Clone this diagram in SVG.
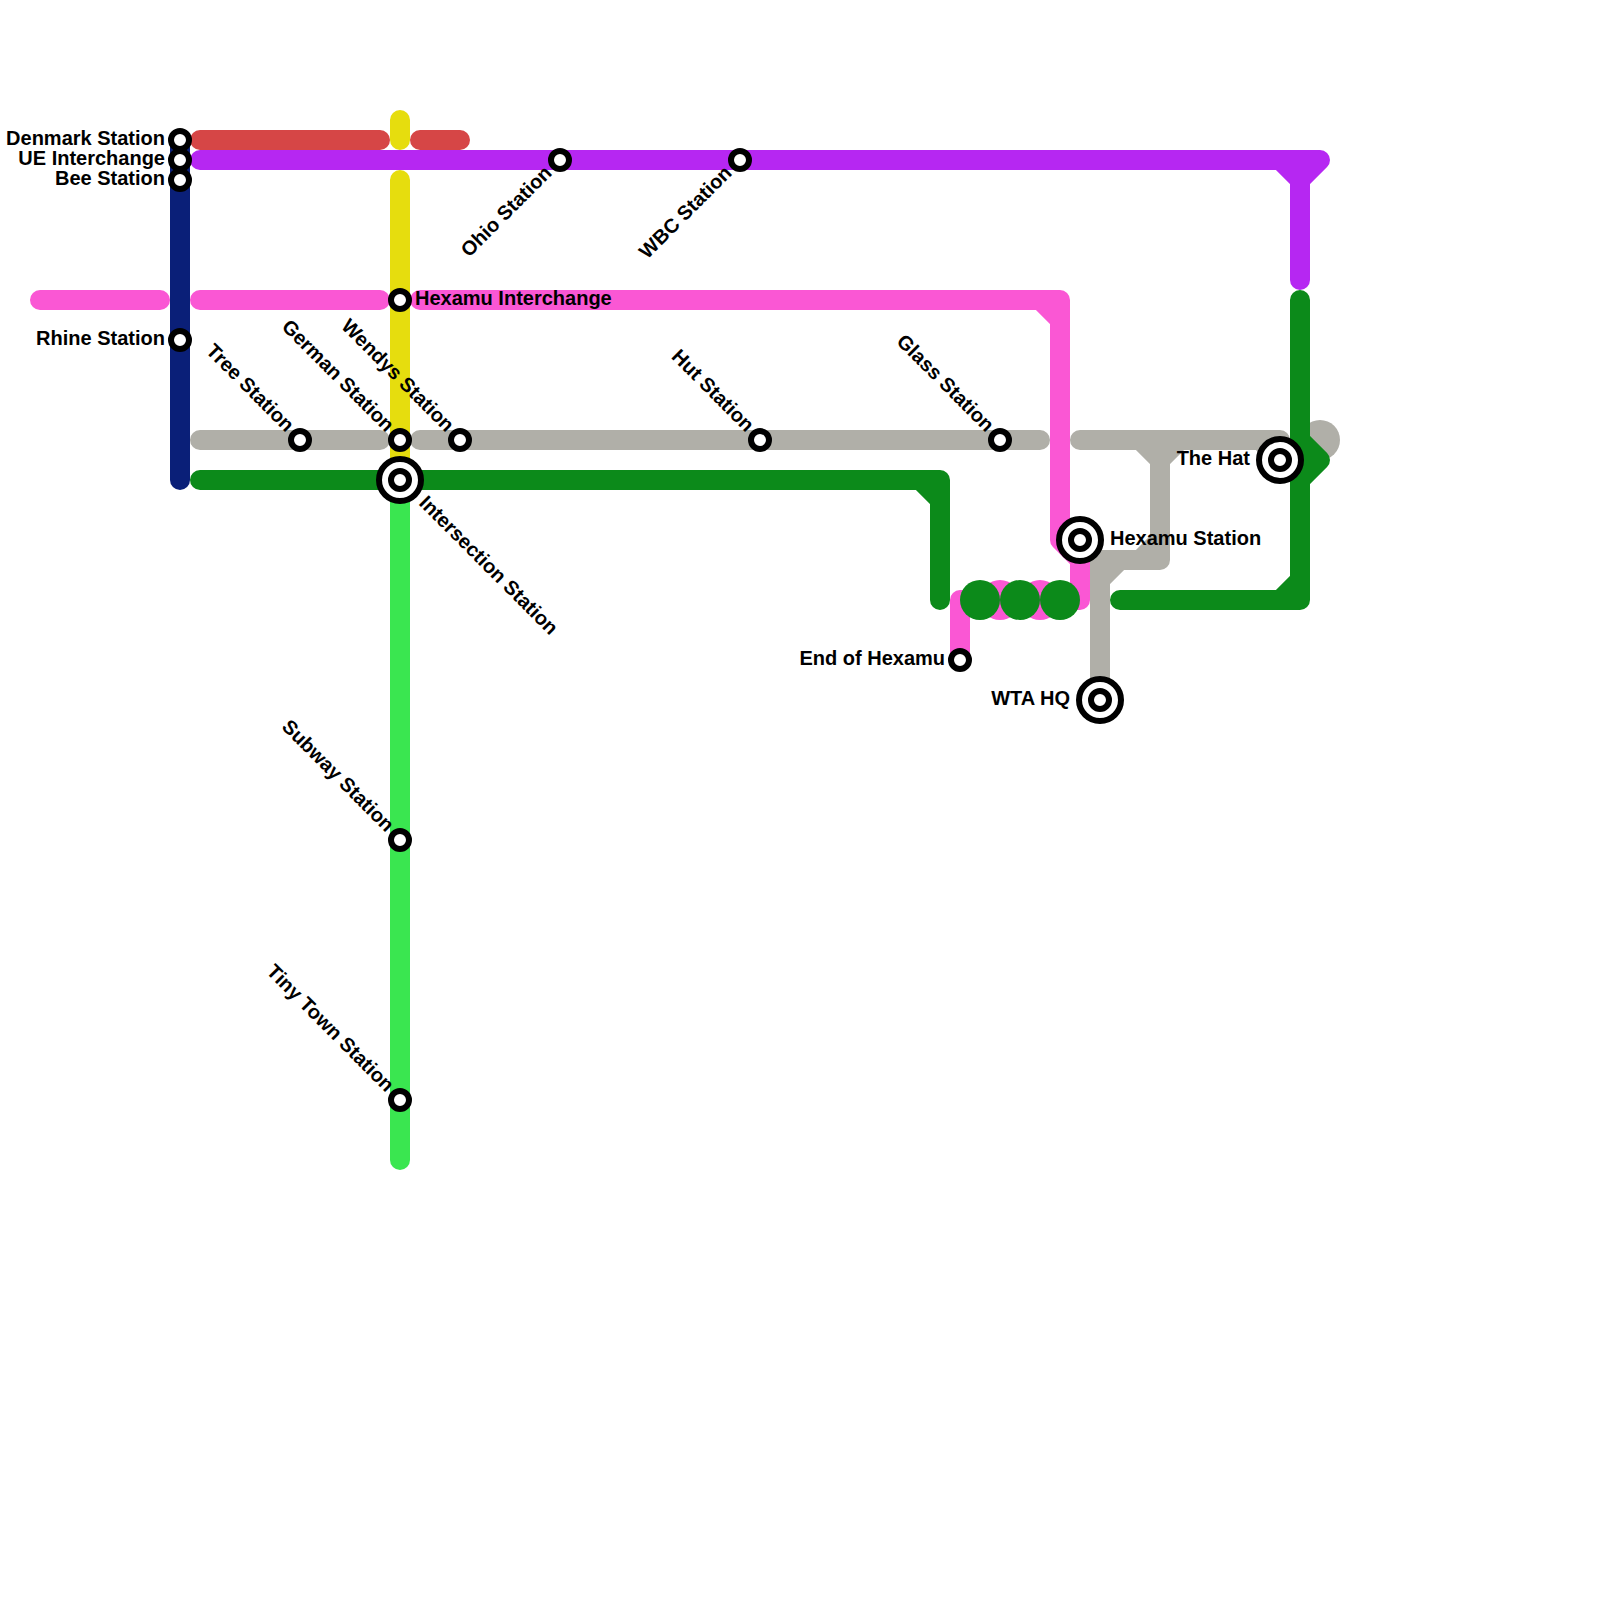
<svg xmlns="http://www.w3.org/2000/svg" width="1600" height="1600" viewBox="0 0 1600 1600">
<style>
.l{fill:none;stroke-width:20;stroke-linecap:round;stroke-linejoin:round}
.st{fill:#fff;stroke:#000;stroke-width:6}
.ic{fill:#fff;stroke:#000;stroke-width:6}
text{font-family:"Liberation Sans",Arial,sans-serif;font-weight:700;font-size:20px;fill:#000}
.e{text-anchor:end}
</style>
<rect width="1600" height="1600" fill="#fff"/>
<g id="connectors">
<path class="l" stroke="#0a1f78" d="M180 140V480"/>
<path class="l" stroke="#d64646" d="M200 140H380M420 140H460"/>
<path class="l" stroke="#e6dd0e" d="M400 120V140M400 180V460"/>
<path class="l" stroke="#b627f2" d="M200 160H1320L1300 180V280M1280 160L1300 180"/>
<path class="l" stroke="#fa57d4" d="M40 300H160M200 300H380M420 300H1060V540L1080 560V600H960V660M1040 300L1060 320"/>
<g fill="#fa57d4"><circle cx="1000" cy="600" r="20"/><circle cx="1040" cy="600" r="20"/></g>
<circle cx="1320" cy="440" r="20" fill="#b0afa8"/>
<path class="l" stroke="#b0afa8" d="M200 440H380M420 440H1040M1080 440H1280V460M1260 440L1280 460M1140 440L1160 460L1180 440M1160 440V560H1100M1100 700V560M1100 580L1120 560M1140 560L1160 540"/>
<path class="l" stroke="#3ae650" d="M400 480V1160"/>
<path class="l" stroke="#0c8a1a" d="M200 480H380M420 480H940V600M920 480L940 500M1120 600H1300V300M1280 600L1300 580M1300 440L1320 460L1300 480"/>
<g fill="#0c8a1a"><circle cx="980" cy="600" r="20"/><circle cx="1020" cy="600" r="20"/><circle cx="1060" cy="600" r="20"/></g>
</g>
<g id="denmark"><circle class="st" cx="180" cy="140" r="9"/><text class="e" x="165" y="145">Denmark Station</text></g>
<g id="ue"><circle class="st" cx="180" cy="160" r="9"/><text class="e" x="165" y="165">UE Interchange</text></g>
<g id="bee"><circle class="st" cx="180" cy="180" r="9"/><text class="e" x="165" y="185">Bee Station</text></g>
<g id="rhine"><circle class="st" cx="180" cy="340" r="9"/><text class="e" x="165" y="345">Rhine Station</text></g>
<g id="hexint"><circle class="st" cx="400" cy="300" r="9"/><text x="415" y="305">Hexamu Interchange</text></g>
<g id="tree"><circle class="st" cx="300" cy="440" r="9"/><text class="e" transform="translate(286 433) rotate(45)">Tree Station</text></g>
<g id="german"><circle class="st" cx="400" cy="440" r="9"/><text class="e" transform="translate(386 433) rotate(45)">German Station</text></g>
<g id="wendys"><circle class="st" cx="460" cy="440" r="9"/><text class="e" transform="translate(446 433) rotate(45)">Wendys Station</text></g>
<g id="hut"><circle class="st" cx="760" cy="440" r="9"/><text class="e" transform="translate(746 433) rotate(45)">Hut Station</text></g>
<g id="glass"><circle class="st" cx="1000" cy="440" r="9"/><text class="e" transform="translate(986 433) rotate(45)">Glass Station</text></g>
<g id="ohio"><circle class="st" cx="560" cy="160" r="9"/><text class="e" transform="translate(553 174) rotate(-45)">Ohio Station</text></g>
<g id="wbc"><circle class="st" cx="740" cy="160" r="9"/><text class="e" transform="translate(733 174) rotate(-45)">WBC Station</text></g>
<g id="intersection"><circle class="ic" cx="400" cy="480" r="21"/><circle class="st" cx="400" cy="480" r="9"/><text transform="translate(418 504) rotate(45)">Intersection Station</text></g>
<g id="subway"><circle class="st" cx="400" cy="840" r="9"/><text class="e" transform="translate(386 833) rotate(45)">Subway Station</text></g>
<g id="tiny"><circle class="st" cx="400" cy="1100" r="9"/><text class="e" transform="translate(386 1093) rotate(45)">Tiny Town Station</text></g>
<g id="end"><circle class="st" cx="960" cy="660" r="9"/><text class="e" x="945" y="665">End of Hexamu</text></g>
<g id="hexamu"><circle class="ic" cx="1080" cy="540" r="21"/><circle class="st" cx="1080" cy="540" r="9"/><text x="1110" y="545">Hexamu Station</text></g>
<g id="wta"><circle class="ic" cx="1100" cy="700" r="21"/><circle class="st" cx="1100" cy="700" r="9"/><text class="e" x="1070" y="705">WTA HQ</text></g>
<g id="hat"><circle class="ic" cx="1280" cy="460" r="21"/><circle class="st" cx="1280" cy="460" r="9"/><text class="e" x="1250" y="465">The Hat</text></g>
</svg>
